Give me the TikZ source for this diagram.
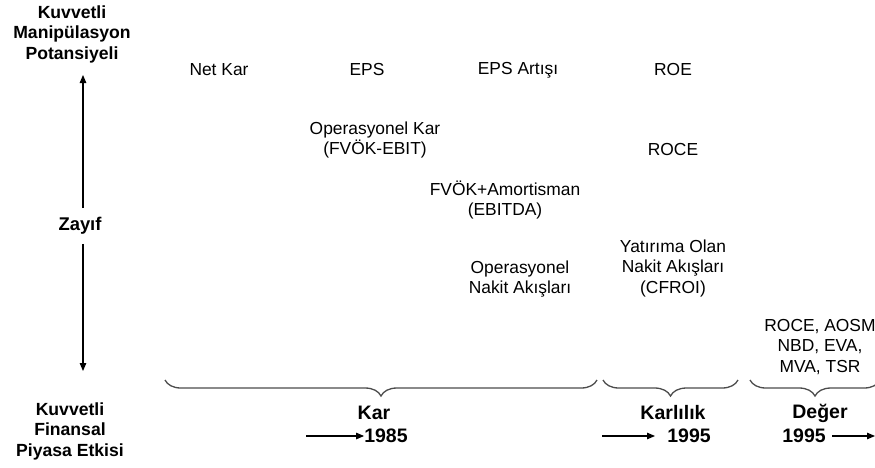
\documentclass[tikz,border=0pt]{standalone}
\usepackage{fontspec}
\setmainfont{Liberation Sans}
\usetikzlibrary{arrows.meta,decorations.pathreplacing}
\begin{document}
\begin{tikzpicture}[x=1pt,y=-1pt,
  lbl/.style={inner sep=0pt,align=center,font=\fontsize{17.4}{20.5}\selectfont},
  blbl/.style={inner sep=0pt,align=center,font=\fontsize{17.6}{20.5}\selectfont\bfseries},
  bigb/.style={inner sep=0pt,align=center,font=\fontsize{19.5}{22}\selectfont\bfseries},
  arr/.style={line width=1.1pt,-{Triangle[length=8pt,width=6.5pt]}},
  brc/.style={draw=black!70,line width=1.3pt,decorate,decoration={brace,mirror,amplitude=16pt}}]
\useasboundingbox (0,0) rectangle (875,467);
% left labels
\node[blbl] (top) at (72,34) {Kuvvetli\\Manipülasyon\\Potansiyeli};
\node[blbl,font=\fontsize{18.4}{20.5}\selectfont\bfseries,inner ysep=9pt] (zayif) at (80,226) {Zayıf};
\node[blbl] (bot) at (70,431) {Kuvvetli\\Finansal\\Piyasa Etkisi};
\coordinate (vtop) at (83,75);
\coordinate (vbot) at (83,371);
\draw[arr] (zayif.north -| vtop) -- (vtop);
\draw[arr] (zayif.south -| vbot) -- (vbot);
% measures
\node[lbl] (netkar) at (219,70) {Net Kar};
\node[lbl] (eps) at (367,70) {EPS};
\node[lbl] (epsart) at (518,70) {EPS Artışı};
\node[lbl] (roe) at (673,70) {ROE};
\node[lbl] (opkar) at (375,140) {Operasyonel Kar\\(FVÖK-EBIT)};
\node[lbl] (roce) at (673,150) {ROCE};
\node[lbl] (ebitda) at (505,200) {FVÖK+Amortisman\\(EBITDA)};
\node[lbl] (cfroi) at (673,268) {Yatırıma Olan\\Nakit Akışları\\(CFROI)};
\node[lbl] (opnak) at (520,279) {Operasyonel\\Nakit Akışları};
\node[lbl] (deg) at (820,347) {ROCE, AOSM\\NBD, EVA,\\MVA, TSR};
% braces
\coordinate (b1a) at (165,380); \coordinate (b1b) at (597,380);
\coordinate (b2a) at (603,380); \coordinate (b2b) at (738,380);
\coordinate (b3a) at (750,380); \coordinate (b3b) at (880,380);
\draw[brc] (b1a) -- (b1b);
\draw[brc] (b2a) -- (b2b);
\draw[brc] (b3a) -- (b3b);
\node[bigb] (kar) at (374,413) {Kar};
\node[bigb] (karlilik) at (673,413) {Karlılık};
\node[bigb] (deger) at (820,413) {Değer};
\node[bigb] (y1985) at (386,436) {1985};
\node[bigb] (y1995a) at (689,436) {1995};
\node[bigb] (y1995b) at (804,436) {1995};
\coordinate (a1) at (306,436);
\coordinate (a2s) at (602,436); \coordinate (a2e) at (655,436);
\coordinate (a3s) at (832,436); \coordinate (a3e) at (875,436);
\draw[arr] (a1) -- (y1985.west);
\draw[arr] (a2s) -- (a2e);
\draw[arr] (a3s) -- (a3e);
\end{tikzpicture}
\end{document}
